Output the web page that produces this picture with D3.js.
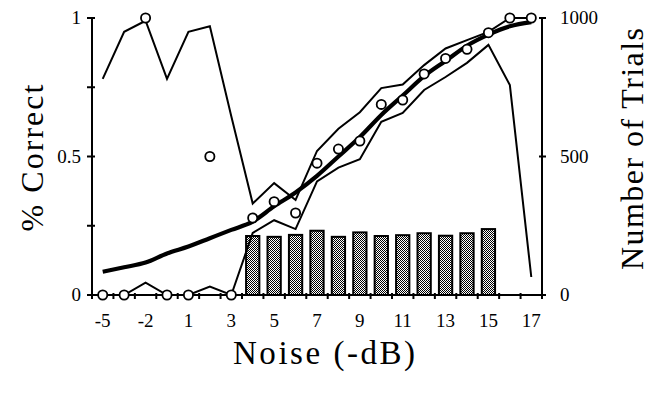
<!DOCTYPE html>
<html><head><meta charset="utf-8">
<script src="https://cdn.jsdelivr.net/npm/d3@7/dist/d3.min.js"></script>
<style>body{margin:0;background:#fff}svg{display:block}</style>
</head><body>
<svg id="chart" width="656" height="393"></svg>
<script>
// Noise levels (dB) of each condition; labels shown every other one
const categories = ["-5","-3.5","-2","-0.5","1","2","3","4","5","6","7","8","9","10","11","12","13","14","15","16","17"];
const tickLabels = ["-5","-2","1","3","5","7","9","11","13","15","17"];
// Observed proportion correct (open circles)
const pctCorrect = [0,0,1,0,0,0.5,0,0.278,0.337,0.296,0.476,0.527,0.556,0.688,0.704,0.798,0.854,0.887,0.947,1,1];
// Fitted psychometric curve (thick line)
const fitCurve = [0.084,0.10,0.117,0.15,0.175,0.205,0.235,0.265,0.32,0.37,0.43,0.50,0.57,0.65,0.72,0.79,0.845,0.90,0.94,0.97,0.985];
// Upper / lower confidence bounds (thin lines)
const upperBound = [0.78,0.95,0.99,0.78,0.95,0.97,0.645,0.33,0.404,0.343,0.52,0.60,0.66,0.747,0.76,0.83,0.89,0.92,0.95,1.0,1.0];
const lowerBound = [0,0,0.045,0,0,0.03,0,0.224,0.27,0.238,0.41,0.46,0.49,0.625,0.657,0.74,0.787,0.838,0.903,0.758,0.065];
// Number of trials (bars, right axis)
const trials = [0,0,0,0,0,0,0,213,210,217,232,210,226,213,216,223,214,223,238,0,0];
const leftTicks = [0,0.25,0.5,0.75,1];
const leftTickLabels = {"0":"0","0.5":"0.5","1":"1"};
const rightTicks = [0,500,1000];

const svg = d3.select("#chart");
const pL = 92, pR = 542, pT = 18, pB = 295;
const x = d3.scaleBand().domain(categories).range([pL, pR]).padding(0);
const cx = c => x(c) + x.bandwidth()/2;
const y = d3.scaleLinear().domain([0,1]).range([pB, pT]);
const yR = d3.scaleLinear().domain([0,1000]).range([pB, pT]);
const serif = "'Liberation Serif','Times New Roman',serif";

// pattern for the stippled bars
const defs = svg.append("defs");
const pat = defs.append("pattern").attr("id","stipple").attr("width",2).attr("height",2)
  .attr("patternUnits","userSpaceOnUse");
pat.append("rect").attr("width",2).attr("height",2).attr("fill","#fff");
pat.append("rect").attr("x",0).attr("y",0).attr("width",1).attr("height",1).attr("fill","#000");
pat.append("rect").attr("x",1).attr("y",1).attr("width",1).attr("height",1).attr("fill","#000");

// bars
const barW = x.bandwidth()*0.62;
svg.append("g").selectAll("rect")
  .data(categories.map((c,i)=>({c, v:trials[i]})).filter(d=>d.v>0))
  .join("rect")
  .attr("x", d=>cx(d.c)-barW/2).attr("width", barW)
  .attr("y", d=>yR(d.v)).attr("height", d=>yR(0)-yR(d.v))
  .attr("fill","url(#stipple)").attr("stroke","#000").attr("stroke-width",2);

// thin bound lines
const line = d3.line().x((d,i)=>cx(categories[i])).y(d=>y(d));
svg.append("path").datum(upperBound).attr("d", line)
  .attr("fill","none").attr("stroke","#000").attr("stroke-width",2).attr("stroke-linejoin","miter");
svg.append("path").datum(lowerBound).attr("d", line)
  .attr("fill","none").attr("stroke","#000").attr("stroke-width",2).attr("stroke-linejoin","miter");

// thick fitted curve
const curve = d3.line().x((d,i)=>cx(categories[i])).y(d=>y(d)).curve(d3.curveMonotoneX);
svg.append("path").datum(fitCurve).attr("d", curve)
  .attr("fill","none").attr("stroke","#000").attr("stroke-width",4.2);

// axes lines
const axG = svg.append("g").attr("stroke","#000").attr("stroke-width",2);
axG.append("line").attr("x1",pL).attr("x2",pL).attr("y1",pT).attr("y2",pB+1);
axG.append("line").attr("x1",pR).attr("x2",pR).attr("y1",pT).attr("y2",pB+1);
axG.append("line").attr("x1",pL-1).attr("x2",pR+1).attr("y1",pB).attr("y2",pB);
// x ticks at band boundaries
const bounds = categories.map(c=>x(c)).concat([pR]);
axG.selectAll("line.xt").data(bounds).join("line").attr("class","xt")
  .attr("x1",d=>d).attr("x2",d=>d).attr("y1",pB-2).attr("y2",pB+4);
// left ticks
axG.selectAll("line.lt").data(leftTicks).join("line").attr("class","lt")
  .attr("x1",pL-5).attr("x2",pL+3).attr("y1",d=>y(d)).attr("y2",d=>y(d));
axG.selectAll("line.rt").data(rightTicks).join("line").attr("class","rt")
  .attr("x1",pR-3).attr("x2",pR+4).attr("y1",d=>yR(d)).attr("y2",d=>yR(d));

// circles
svg.append("g").selectAll("circle").data(pctCorrect).join("circle")
  .attr("cx",(d,i)=>cx(categories[i])).attr("cy",d=>y(d)).attr("r",4.6)
  .attr("fill","#fff").attr("stroke","#000").attr("stroke-width",1.8);

// tick labels
const tl = svg.append("g").attr("font-family",serif).attr("font-size",19).attr("fill","#000");
tl.selectAll("text.xl").data(tickLabels).join("text").attr("class","xl")
  .attr("x",d=>cx(d)).attr("y",327).attr("text-anchor","middle").text(d=>d);
tl.selectAll("text.yl").data(leftTicks.filter(t=>leftTickLabels[String(t)])).join("text").attr("class","yl")
  .attr("x",pL-11).attr("y",d=>y(d)+6).attr("text-anchor","end").text(d=>leftTickLabels[String(d)]);
tl.selectAll("text.yr").data(rightTicks).join("text").attr("class","yr")
  .attr("x",pR+18).attr("y",d=>yR(d)+6).attr("text-anchor","start").text(d=>d);

// axis titles
svg.append("text").attr("x",324).attr("y",364).attr("text-anchor","middle")
  .attr("font-family",serif).attr("font-size",33).attr("textLength",182).attr("lengthAdjust","spacing").text("Noise (-dB)");
svg.append("text").attr("transform",`translate(43,158) rotate(-90)`).attr("text-anchor","middle")
  .attr("font-family",serif).attr("font-size",32).attr("textLength",147).attr("lengthAdjust","spacing").text("% Correct");
svg.append("text").attr("transform",`translate(643,149) rotate(-90)`).attr("text-anchor","middle")
  .attr("font-family",serif).attr("font-size",32).attr("textLength",242).attr("lengthAdjust","spacing").text("Number of Trials");
</script>
</body></html>
